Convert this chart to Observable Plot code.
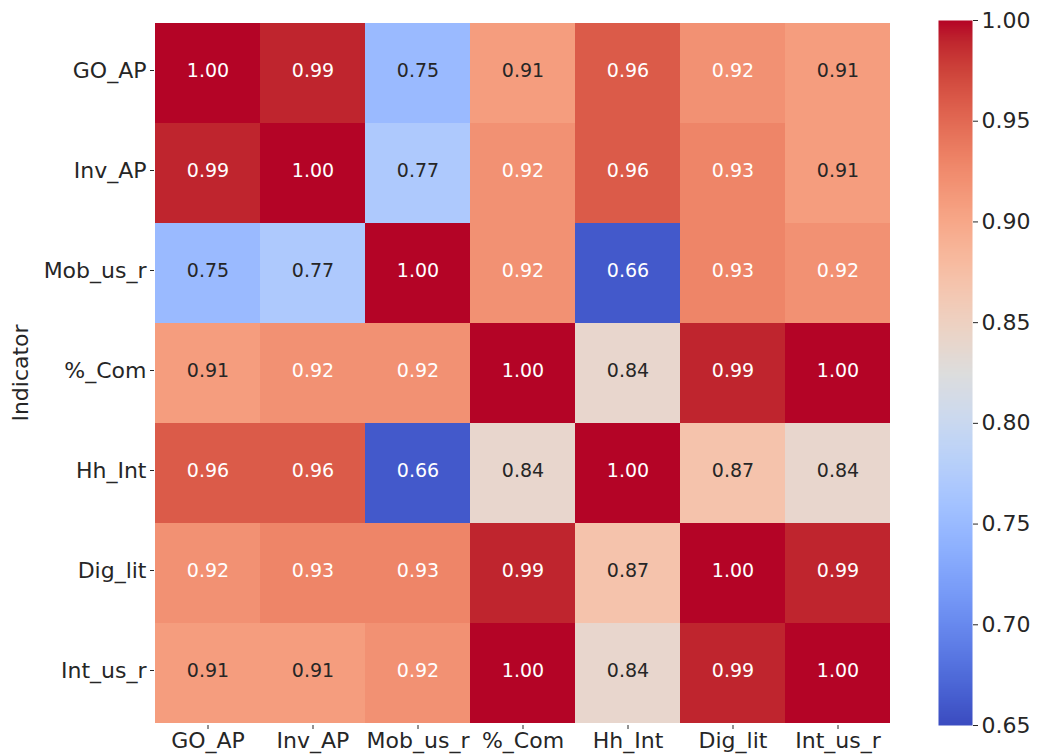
<!DOCTYPE html>
<html>
<head>
<meta charset="utf-8">
<script src="https://cdn.jsdelivr.net/npm/d3@7"></script>
<script src="https://cdn.jsdelivr.net/npm/@observablehq/plot@0.6"></script>
<style>
  html, body { margin: 0; padding: 0; background: #fff; }
  #chart { position: relative; width: 1040px; height: 754px; overflow: hidden; font-family: "DejaVu Sans", sans-serif; }
  #chart svg { position: absolute; top: 0; background: transparent; font-family: "DejaVu Sans", sans-serif; }
</style>
</head>
<body>
<div id="chart"></div>
<script>
// Indicator names (rows top to bottom, columns left to right)
const indicators = ["GO_AP", "Inv_AP", "Mob_us_r", "%_Com", "Hh_Int", "Dig_lit", "Int_us_r"];

// Pairwise correlation coefficients, one array per row indicator
const rowGO_AP   = [1.00, 0.99, 0.75, 0.91, 0.96, 0.92, 0.91];
const rowInv_AP  = [0.99, 1.00, 0.77, 0.92, 0.96, 0.93, 0.91];
const rowMob_us_r = [0.75, 0.77, 1.00, 0.92, 0.66, 0.93, 0.92];
const rowPctCom  = [0.91, 0.92, 0.92, 1.00, 0.84, 0.99, 1.00];
const rowHh_Int  = [0.96, 0.96, 0.66, 0.84, 1.00, 0.87, 0.84];
const rowDig_lit = [0.92, 0.93, 0.93, 0.99, 0.87, 1.00, 0.99];
const rowInt_us_r = [0.91, 0.91, 0.92, 1.00, 0.84, 0.99, 1.00];

// Colour bar range and tick values
const colorDomain = [0.65, 1.00];
const colorTicks = [0.65, 0.70, 0.75, 0.80, 0.85, 0.90, 0.95, 1.00];

const rows = [rowGO_AP, rowInv_AP, rowMob_us_r, rowPctCom, rowHh_Int, rowDig_lit, rowInt_us_r];
const cells = rows.flatMap((vals, i) =>
  vals.map((v, j) => ({row: indicators[i], col: indicators[j], value: v}))
);

// Diverging cool-to-warm colour map (Moreland), sampled at 33 stops
const coolwarmStops = [
  [59,76,192],[68,90,204],[77,104,215],[87,117,225],[98,130,234],[108,142,241],
  [119,154,247],[130,165,251],[141,176,254],[152,185,255],[163,194,255],[174,201,253],
  [184,208,249],[194,213,244],[204,217,238],[213,219,230],[221,221,221],[229,216,209],
  [236,211,197],[241,204,185],[245,196,173],[247,187,160],[247,177,148],[247,166,135],
  [244,154,123],[241,141,111],[236,127,99],[229,112,88],[222,96,77],[213,80,66],
  [203,62,56],[192,40,47],[180,4,38]
].map(([r, g, b]) => `rgb(${r},${g},${b})`);
const coolwarm = d3.piecewise(d3.interpolateRgb, coolwarmStops);

const colorScale = {type: "linear", domain: colorDomain, interpolate: () => coolwarm, clamp: true};

// Relative luminance decides whether the label is light or dark
function luminance(v) {
  const c = d3.rgb(coolwarm((v - colorDomain[0]) / (colorDomain[1] - colorDomain[0])));
  const lin = x => { x /= 255; return x <= 0.03928 ? x / 12.92 : Math.pow((x + 0.055) / 1.055, 2.4); };
  return 0.2126 * lin(c.r) + 0.7152 * lin(c.g) + 0.0722 * lin(c.b);
}
const isLight = d => luminance(d.value) > 0.425;

const fmt = d3.format(".2f");

const heat = Plot.plot({
  width: 920,
  height: 790,
  marginLeft: 154,
  marginRight: 30,
  marginTop: 20,
  marginBottom: 65,
  style: {fontFamily: "DejaVu Sans, sans-serif", fontSize: "22px", color: "#262626", background: "transparent"},
  x: {domain: indicators, padding: 0, label: null},
  y: {domain: indicators, padding: 0, label: null},
  color: colorScale,
  marks: [
    Plot.cell(cells, {x: "col", y: "row", fill: "value", inset: 0}),
    Plot.text(cells, {x: "col", y: "row", text: d => fmt(d.value), filter: d => !isLight(d), fill: "#ffffff", fontSize: 19, dy: -3}),
    Plot.text(cells, {x: "col", y: "row", text: d => fmt(d.value), filter: isLight, fill: "#262626", fontSize: 19, dy: -3}),
    Plot.axisX({anchor: "bottom", tickSize: 4, tickPadding: 3, fontSize: 22, label: null}),
    Plot.axisY({anchor: "left", tickSize: 4, tickPadding: 4, fontSize: 22, dy: -3, label: null}),
    Plot.axisY({anchor: "left", tickSize: 0, text: null, fontSize: 22, label: "Indicator", labelAnchor: "center", labelOffset: 142})
  ]
});
heat.style.left = "0px";

// Vertical colour bar with its own value axis
const bar = Plot.plot({
  width: 102,
  height: 754,
  marginLeft: 0,
  marginRight: 68,
  marginTop: 20,
  marginBottom: 29,
  style: {fontFamily: "DejaVu Sans, sans-serif", fontSize: "22px", color: "#262626", background: "transparent"},
  x: {domain: [0, 1], axis: null},
  y: {domain: colorDomain, axis: null},
  color: colorScale,
  marks: [
    Plot.raster({x1: 0, x2: 1, y1: colorDomain[0], y2: colorDomain[1], width: 1, height: 350, fill: (x, y) => y, imageRendering: "auto"}),
    Plot.axisY(colorTicks, {anchor: "right", tickSize: 5, tickPadding: 4, fontSize: 22, tickFormat: ".2f", label: null})
  ]
});
bar.style.left = "938px";

const root = document.getElementById("chart");
root.append(heat, bar);
</script>
</body>
</html>
